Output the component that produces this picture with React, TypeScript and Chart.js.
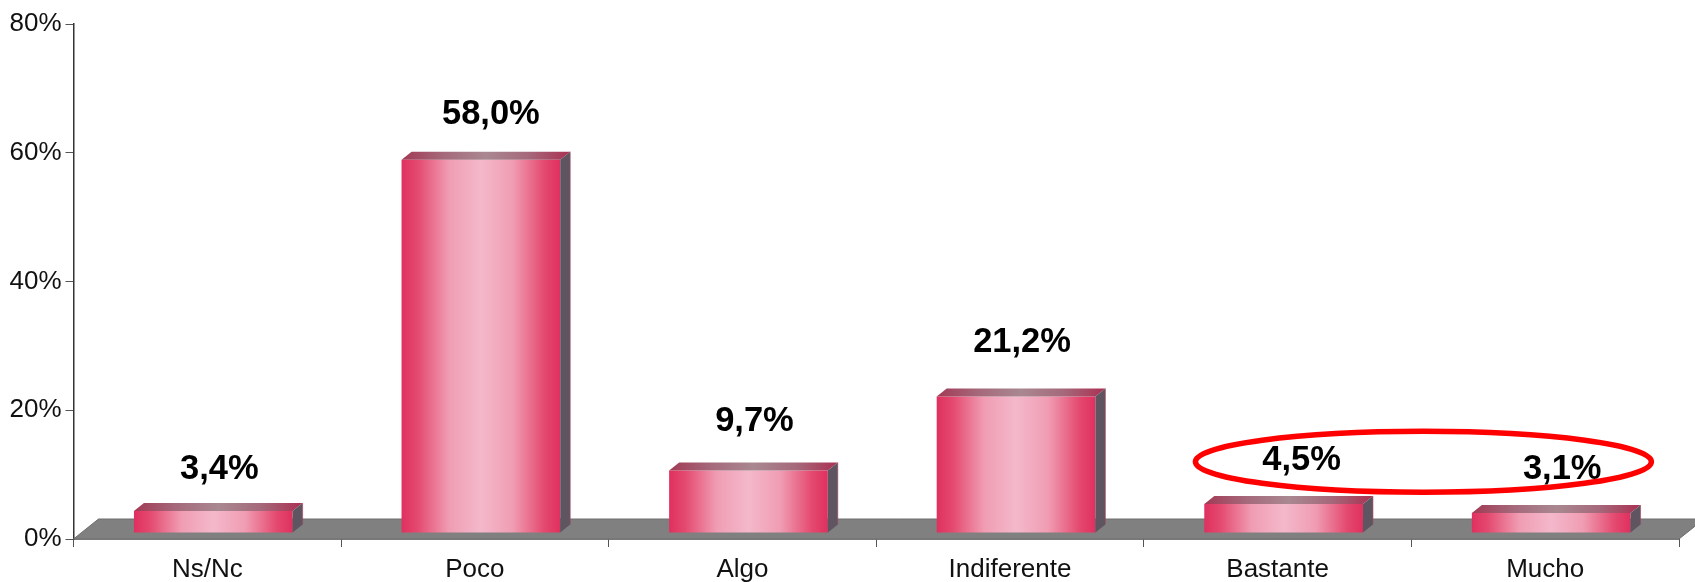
import React, { useEffect, useRef } from "react";
import { Chart, registerables } from "chart.js";

Chart.register(...registerables);

const categories = ["Ns/Nc", "Poco", "Algo", "Indiferente", "Bastante", "Mucho"];
const values = [3.4, 58.0, 9.7, 21.2, 4.5, 3.1];
const valueLabels = ["3,4%", "58,0%", "9,7%", "21,2%", "4,5%", "3,1%"];
const yTicks = [0, 20, 40, 60, 80];

const FONT = "'Liberation Sans', Arial, sans-serif";
const labelNudgeX = [-1, 3, -1, -1, 11, 4];
const labelNudgeY = [5, 2, -2, -7, 3, 3];

const threeD = {
  id: "threeD",
  beforeDatasetsDraw(chart: any) {
    const { ctx, chartArea, scales } = chart;
    const y0 = scales.y.getPixelForValue(0);
    ctx.save();
    ctx.beginPath();
    ctx.moveTo(chartArea.left, y0);
    ctx.lineTo(chartArea.left + 25, y0 - 20);
    ctx.lineTo(chartArea.right + 25, y0 - 20);
    ctx.lineTo(chartArea.right, y0);
    ctx.closePath();
    ctx.fillStyle = "#808080";
    ctx.fill();
    ctx.strokeStyle = "#6e6e6e";
    ctx.lineWidth = 1;
    ctx.stroke();
    ctx.restore();
    ctx.save();
    ctx.translate(6, -6);
  },
  afterDatasetsDraw(chart: any) {
    const { ctx, scales } = chart;
    const meta = chart.getDatasetMeta(0);
    const dx = 10;
    const dy = 8;
    meta.data.forEach((bar: any) => {
      const left = bar.x - bar.width / 2;
      const right = bar.x + bar.width / 2;
      const top = bar.y;
      const base = bar.base;
      const g = ctx.createLinearGradient(left, 0, right + dx, 0);
      g.addColorStop(0, "#a23a55");
      g.addColorStop(0.25, "#a5697b");
      g.addColorStop(0.5, "#a98890");
      g.addColorStop(0.75, "#a5697b");
      g.addColorStop(1, "#ab3052");
      ctx.beginPath();
      ctx.moveTo(left, top);
      ctx.lineTo(left + dx, top - dy);
      ctx.lineTo(right + dx, top - dy);
      ctx.lineTo(right, top);
      ctx.closePath();
      ctx.fillStyle = g;
      ctx.fill();
      ctx.beginPath();
      ctx.moveTo(right, top);
      ctx.lineTo(right + dx, top - dy);
      ctx.lineTo(right + dx, base - dy);
      ctx.lineTo(right, base);
      ctx.closePath();
      ctx.fillStyle = "#5f5560";
      ctx.fill();
      ctx.strokeStyle = "#a8455f";
      ctx.lineWidth = 0.6;
      ctx.beginPath();
      ctx.moveTo(right + dx, top - dy);
      ctx.lineTo(right + dx, base - dy);
      ctx.stroke();
    });
    ctx.restore();

    ctx.save();
    ctx.font = `bold 34.5px ${FONT}`;
    ctx.fillStyle = "#000";
    ctx.textAlign = "center";
    ctx.textBaseline = "middle";
    meta.data.forEach((bar: any, i: number) => {
      const py = scales.y.getPixelForValue(values[i]);
      ctx.fillText(valueLabels[i], bar.x + 13 + labelNudgeX[i], py - 53 + labelNudgeY[i]);
    });
    ctx.restore();

    const bastante = meta.data[4];
    const mucho = meta.data[5];
    const cx = (bastante.x + mucho.x) / 2 + 12;
    ctx.save();
    ctx.beginPath();
    ctx.ellipse(cx, scales.y.getPixelForValue(12), 228, 30.5, 0, 0, Math.PI * 2);
    ctx.strokeStyle = "#ff0000";
    ctx.lineWidth = 5.5;
    ctx.stroke();
    ctx.restore();
  },
};

export default function App() {
  const ref = useRef<HTMLCanvasElement>(null);
  useEffect(() => {
    if (!ref.current) return;
    const chart = new Chart(ref.current, {
      type: "bar",
      data: {
        labels: categories,
        datasets: [
          {
            data: values,
            barPercentage: 0.593,
            categoryPercentage: 1,
            borderWidth: 0,
            backgroundColor: (c: any) => {
              const { chart: ch, dataIndex } = c;
              const xs = ch.scales.x;
              if (!xs || dataIndex === undefined) return "#e0305f";
              const center = xs.getPixelForValue(dataIndex);
              const half = (xs.width / categories.length) * 0.2965;
              if (!Number.isFinite(center) || !Number.isFinite(half)) return "#e0305f";
              const g = ch.ctx.createLinearGradient(center - half, 0, center + half, 0);
              g.addColorStop(0, "#df305f");
              g.addColorStop(0.1, "#e4496f");
              g.addColorStop(0.3, "#f09db3");
              g.addColorStop(0.5, "#f4b8cb");
              g.addColorStop(0.7, "#f09db3");
              g.addColorStop(0.9, "#e4496f");
              g.addColorStop(1, "#df305f");
              return g;
            },
          },
        ],
      },
      plugins: [threeD],
      options: {
        responsive: false,
        animation: false,
        layout: { padding: { top: 24, right: 16, left: 0, bottom: 0 } },
        plugins: { legend: { display: false }, tooltip: { enabled: false }, title: { display: false } },
        scales: {
          x: {
            offset: true,
            afterFit: (s: any) => {
              s.height = 43;
            },
            border: { color: "#111", width: 1.5 },
            grid: { drawOnChartArea: false, tickLength: 8, tickColor: "#555", offset: true },
            ticks: {
              color: "#111",
              font: { family: FONT, size: 26 },
              padding: 7,
              maxRotation: 0,
              autoSkip: false,
            },
          },
          y: {
            min: 0,
            max: 80,
            afterFit: (s: any) => {
              s.width = 73.5;
            },
            afterBuildTicks: (s: any) => {
              s.ticks = yTicks.map((v) => ({ value: v }));
            },
            border: { color: "#333", width: 1.5 },
            grid: { drawOnChartArea: false, tickLength: 8, tickColor: "#555" },
            ticks: {
              color: "#111",
              font: { family: FONT, size: 26 },
              padding: 4,
              callback: (v: any) => `${v}%`,
            },
          },
        },
      },
    });
    return () => chart.destroy();
  }, []);
  return (
    <div style={{ position: "fixed", left: 0, top: 0 }}>
      <canvas ref={ref} width={1695} height={582} style={{ display: "block" }} />
    </div>
  );
}
